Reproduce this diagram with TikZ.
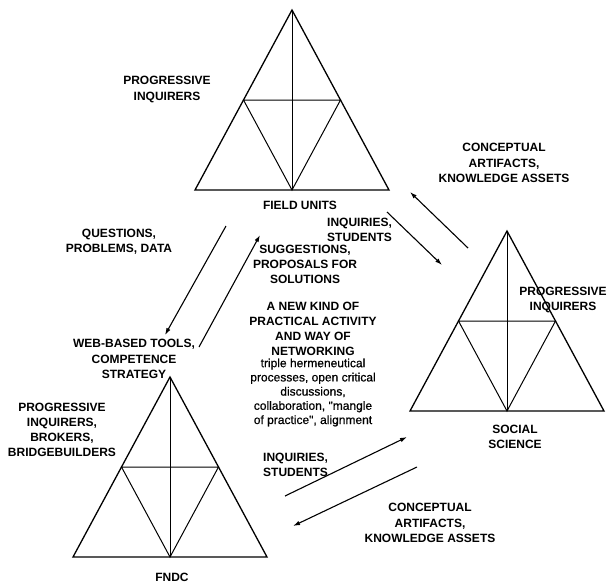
\documentclass[tikz,border=0pt]{standalone}
\usepackage{fontspec}
\setmainfont{Liberation Sans}
\newfontfamily\smallheavy[FakeBold=0.6]{Liberation Sans}
\usetikzlibrary{arrows.meta}
\begin{document}
\begin{tikzpicture}[x=1pt,y=-1pt,
  tri/.style={line width=1.3pt, line join=miter},
  innerl/.style={line width=1pt},
  lab/.style={font=\fontsize{12}{15.2}\selectfont\bfseries, align=center, inner sep=0pt},
  small/.style={font=\smallheavy\fontsize{12}{14.2}\selectfont, align=center, inner sep=0pt},
  flow/.style={line width=1.1pt, -{Latex[length=7pt,width=4.5pt]}},
  tetra/.pic={
    \draw[tri] (0,0) -- (-97,180) -- (97,180) -- cycle;
    \draw[innerl] (-48.5,90) -- (48.5,90) -- (0,180) -- cycle;
    \draw[innerl] (0,0) -- (0,180);
  }]
\useasboundingbox (0,0) rectangle (609,583);

% triangles
\pic (tfield) at (292,10) {tetra};
\pic (tfndc) at (170,377) {tetra};
\pic (tsocial) at (507,231) {tetra};

% arrow end points
\coordinate (a1s) at (468,248); \coordinate (a1e) at (410,192);
\coordinate (a2s) at (387,212); \coordinate (a2e) at (442,265);
\coordinate (a3s) at (226,226); \coordinate (a3e) at (165,335);
\coordinate (a4s) at (199,347); \coordinate (a4e) at (260,235);
\coordinate (a5s) at (285,496); \coordinate (a5e) at (407,437);
\coordinate (a6s) at (417,467); \coordinate (a6e) at (293,526);

\draw[flow] (a1s) -- (a1e);
\draw[flow] (a2s) -- (a2e);
\draw[flow] (a3s) -- (a3e);
\draw[flow] (a4s) -- (a4e);
\draw[flow] (a5s) -- (a5e);
\draw[flow] (a6s) -- (a6e);

% labels
\node[lab] (pi1) at (167,89.5) {PROGRESSIVE\\INQUIRERS};
\node[lab] (fu) at (300,205) {FIELD UNITS};
\node[lab, align=left, anchor=west] (is1) at (327,229.5) {INQUIRIES,\\STUDENTS};
\node[lab] (ca1) at (504,163) {CONCEPTUAL\\ARTIFACTS,\\KNOWLEDGE ASSETS};
\node[lab] (qpd) at (119,241.5) {QUESTIONS,\\PROBLEMS, DATA};
\node[lab] (spf) at (305,264.5) {SUGGESTIONS,\\PROPOSALS FOR\\SOLUTIONS};
\node[lab] (web) at (134,359) {WEB-BASED TOOLS,\\COMPETENCE\\STRATEGY};
\node[lab] (new) at (313,329) {A NEW KIND OF\\PRACTICAL ACTIVITY\\AND WAY OF\\NETWORKING};
\node[small] (trip) at (313,392.5) {triple hermeneutical\\processes, open critical\\discussions,\\collaboration, "mangle\\of practice", alignment};
\node[lab] (pi2) at (563,300) {PROGRESSIVE\\INQUIRERS};
\node[lab] (ss) at (515,437) {SOCIAL\\SCIENCE};
\node[lab] (pib) at (62,430) {PROGRESSIVE\\INQUIRERS,\\BROKERS,\\BRIDGEBUILDERS};
\node[lab, align=left, anchor=west] (is2) at (263,464.5) {INQUIRIES,\\STUDENTS};
\node[lab] (ca2) at (430,523) {CONCEPTUAL\\ARTIFACTS,\\KNOWLEDGE ASSETS};
\node[lab] (fndc) at (172,577) {FNDC};
\end{tikzpicture}
\end{document}
